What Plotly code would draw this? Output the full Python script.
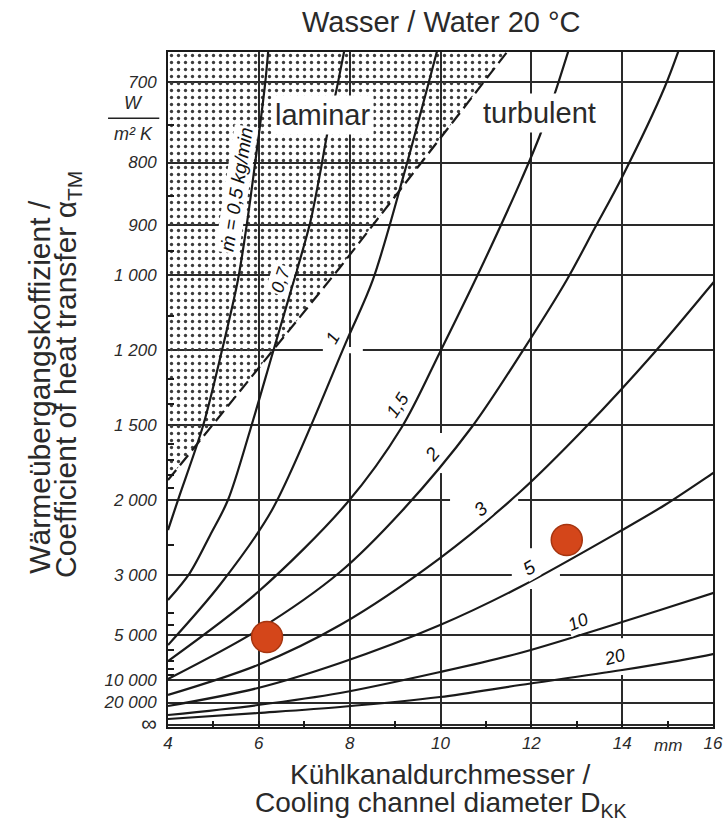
import plotly.graph_objects as go

# ---------------- data ----------------
# x: cooling channel diameter D_KK in mm, alpha: heat transfer coefficient W/(m^2 K)
D_05 = [4.00, 4.22, 4.77, 5.19, 5.54, 5.74, 5.89, 6.14, 6.24]
A_05 = [2308, 2000, 1505, 1200, 1011, 896, 815, 701, 650]

D_07 = [4.00, 4.48, 4.93, 5.32, 5.81, 6.31, 6.84, 7.13, 7.35, 7.50, 7.74, 7.96]
A_07 = [3600, 2961, 2368, 2000, 1525, 1207, 989, 896, 815, 763, 701, 650]

D_1 = [4.00, 5.14, 6.29, 7.94, 8.51, 9.22, 10.03]
A_1 = [5625, 3214, 2093, 1169, 1011, 811, 650]

D_15 = [4.00, 5.98, 7.94, 9.15, 9.99, 10.87, 11.75, 12.19, 12.52, 12.94]
A_15 = [7031, 3383, 2027, 1510, 1206, 989, 830, 763, 712, 650]

D_2 = [4.00, 5.98, 7.79, 9.17, 10.69, 11.82, 12.78, 13.40, 14.00, 14.94, 15.38]
A_2 = [9783, 4737, 2941, 2093, 1510, 1200, 1011, 905, 821, 705, 650]

D_3 = [4.00, 5.98, 7.79, 9.99, 11.75, 13.18, 14.72, 16.00, 16.26]
A_3 = [15000, 7500, 4500, 2695, 1931, 1515, 1206, 1018, 987]

D_5 = [4.00, 5.98, 7.79, 9.99, 11.75, 14.00, 14.94, 16.00, 16.26]
A_5 = [23684, 12162, 7258, 4500, 3261, 2308, 2045, 1786, 1731]

D_10 = [4.00, 5.98, 7.79, 9.99, 11.75, 14.00, 16.00, 16.26]
A_10 = [45000, 22500, 14062, 8491, 6250, 4369, 3409, 3309]

D_20 = [4.00, 5.98, 7.79, 9.99, 11.75, 14.00, 16.00, 16.26]
A_20 = [75000, 37500, 25000, 16071, 11250, 8182, 6338, 6081]

curves = [
    ("0,5", D_05, A_05), ("0,7", D_07, A_07), ("1", D_1, A_1),
    ("1,5", D_15, A_15), ("2", D_2, A_2), ("3", D_3, A_3),
    ("5", D_5, A_5), ("10", D_10, A_10), ("20", D_20, A_20),
]

# laminar / turbulent boundary (dashed)
D_bound = [4.00, 7.79, 11.46]
A_bound = [1837, 983, 669]

# example operating points (red dots)
D_pts = [6.18, 12.78]
A_pts = [5114, 2432]

# y axis ticks (alpha values), plotted on a 1/alpha scale
alpha_ticks = [700, 800, 900, 1000, 1200, 1500, 2000, 3000, 5000, 10000, 20000]
alpha_tick_text = ["700", "800", "900", "1 000", "1 200", "1 500", "2 000",
                   "3 000", "5 000", "10 000", "20 000"]
alpha_minor = [750, 850, 950, 1100, 1300, 1400, 1600, 1700, 1800, 1900,
               2500, 4000, 4500, 6000, 7000, 8000, 9000]
x_ticks = [4, 6, 8, 10, 12, 14, 16]

ALPHA_TOP = 668.6  # alpha at the upper frame edge


def inv(a_list):
    return [1000.0 / a for a in a_list]


Y_TOP = 1000.0 / ALPHA_TOP
Y_BOTTOM = -0.0044

ink = "#1a1a1a"
txt = "#2a2a2a"
font_fam = "Liberation Sans, Arial, sans-serif"

fig = go.Figure()

# stippled laminar region
stip_x = [4.0] + D_bound + [4.0]
stip_y = [Y_TOP] + inv(A_bound) + [Y_TOP]
fig.add_trace(go.Scatter(
    x=stip_x, y=stip_y, mode="lines", fill="toself",
    fillcolor="rgba(0,0,0,0)",
    fillpattern=dict(shape=".", fgcolor="#3c3c3c", bgcolor="rgba(0,0,0,0)",
                     size=7, solidity=0.18, fillmode="replace"),
    line=dict(width=0), hoverinfo="skip", showlegend=False))

# boundary line
fig.add_trace(go.Scatter(
    x=D_bound, y=inv(A_bound), mode="lines",
    line=dict(color=ink, width=2.2, dash="13px,6px"),
    hoverinfo="skip", showlegend=False))

# mass-flow curves
for name, d, a in curves:
    fig.add_trace(go.Scatter(
        x=d, y=inv(a), mode="lines", name=name,
        line=dict(color=ink, width=2.2, shape="spline", smoothing=0.9),
        showlegend=False))

# red points
fig.add_trace(go.Scatter(
    x=D_pts, y=inv(A_pts), mode="markers",
    marker=dict(size=31, color="#D4461A", line=dict(color="#A63510", width=1.5)),
    showlegend=False))

# ---------------- axes ----------------
fig.update_xaxes(
    range=[4, 16], tickmode="array", tickvals=x_ticks,
    ticktext=[str(v) for v in x_ticks], automargin=False,
    tickfont=dict(family=font_fam, size=17, color=txt, style="italic"),
    ticks="inside", ticklen=6, tickcolor=ink, tickwidth=1.5,
    showgrid=True, gridcolor="#2a2a2a", gridwidth=1.5,
    showline=True, linecolor=ink, linewidth=2, mirror=True,
    minor=dict(dtick=1, ticks="inside", ticklen=6, tickcolor=ink, tickwidth=1.5, showgrid=False),
    zeroline=False,
)
fig.update_yaxes(
    range=[Y_BOTTOM, Y_TOP], tickmode="array", automargin=False,
    tickvals=inv(alpha_ticks) + [0.0],
    ticktext=alpha_tick_text + ["<span style='font-size:22px'>∞</span>"],
    tickfont=dict(family=font_fam, size=17, color=txt, style="italic"),
    ticks="", showgrid=True, gridcolor="#2a2a2a", gridwidth=1.5,
    showline=True, linecolor=ink, linewidth=2, mirror=True,
    minor=dict(tickmode="array", tickvals=inv(alpha_minor), ticks="inside",
               ticklen=6, tickcolor=ink, tickwidth=1.5, showgrid=False),
    zeroline=False, ticklabelstandoff=6,
)

# ---------------- gaps in the grid next to curve labels ----------------
gap_h = [  # (x0, x1, alpha of the grid line)
    (7.41, 8.29, 1200), (10.21, 11.71, 2000), (11.57, 12.63, 3000)]
gap_v = [  # (x of the grid line, alpha0, alpha1)
    (10.0, 1541, 1786), (12.0, 2545, 3309), (14.0, 5182, 9000)]
shapes = []
for x0, x1, a in gap_h:
    yv = 1000.0 / a
    shapes.append(dict(type="rect", xref="x", yref="y", x0=x0, x1=x1,
                       y0=yv - 0.007, y1=yv + 0.007, layer="between",
                       fillcolor="white", line=dict(width=0)))
for xv, a0, a1 in gap_v:
    shapes.append(dict(type="rect", xref="x", yref="y", x0=xv - 0.06, x1=xv + 0.06,
                       y0=1000.0 / a1, y1=1000.0 / a0, layer="between",
                       fillcolor="white", line=dict(width=0)))
# fraction bar of the unit W / (m^2 K)
shapes.append(dict(type="line", xref="paper", yref="paper", x0=-0.110, x1=-0.016,
                   y0=0.902, y1=0.902, line=dict(color="#222", width=1.5)))

# ---------------- annotations ----------------
ann = []


def lab(text, x, y, angle=0, size=18, bg="white"):
    ann.append(dict(text=text, x=x, y=y, xref="x", yref="y", showarrow=False,
                    textangle=angle, bgcolor=bg, borderpad=1,
                    font=dict(family=font_fam, size=size, color="#111", style="italic")))


lab("ṁ = 0,5 kg/min", 5.52, 1.189, -81, 19)
lab("0,7", 6.47, 0.99, -72, 18)
lab("1", 7.63, 0.86, -60, 18)
lab("1,5", 9.06, 0.711, -57, 18)
lab("2", 9.81, 0.602, -50, 19)
lab("3", 10.87, 0.48, -40, 19)
lab("5", 11.97, 0.349, -30, 19)
lab("10", 13.03, 0.229, -22, 18)
lab("20", 13.84, 0.151, -15, 18)

ann.append(dict(text="laminar", x=7.41, y=1.356, xref="x", yref="y", showarrow=False,
                bgcolor="white", borderpad=3,
                font=dict(family=font_fam, size=29, color=txt)))
ann.append(dict(text="turbulent", x=12.19, y=1.36, xref="x", yref="y", showarrow=False,
                bgcolor="white", borderpad=3,
                font=dict(family=font_fam, size=29, color=txt)))

ann.append(dict(text="mm", x=15.0, y=-0.027, xref="x", yref="paper", showarrow=False,
                yanchor="middle",
                font=dict(family=font_fam, size=17, color=txt, style="italic")))

# unit W / m^2 K
ann.append(dict(text="W", x=-0.064, y=0.925, xref="paper", yref="paper", showarrow=False,
                xanchor="center", yanchor="middle",
                font=dict(family=font_fam, size=18, color=txt, style="italic")))
ann.append(dict(text="m² K", x=-0.064, y=0.879, xref="paper", yref="paper", showarrow=False,
                xanchor="center", yanchor="middle",
                font=dict(family=font_fam, size=18, color=txt, style="italic")))

# titles
ann.append(dict(text="Wasser / Water 20 °C", x=0.501, y=1.0444, xref="paper", yref="paper",
                showarrow=False, yanchor="middle",
                font=dict(family=font_fam, size=29, color=txt)))
ann.append(dict(text="Kühlkanaldurchmesser /", x=0.5, y=-0.070, xref="paper", yref="paper",
                showarrow=False, yanchor="middle",
                font=dict(family=font_fam, size=28, color=txt)))
ann.append(dict(text="Cooling channel diameter D<sub>KK</sub>", x=0.5, y=-0.115,
                xref="paper", yref="paper", showarrow=False, yanchor="middle",
                font=dict(family=font_fam, size=28, color=txt)))
ann.append(dict(text="Wärmeübergangskoffizient /", x=-0.235, y=0.504, xref="paper",
                yref="paper", showarrow=False, textangle=-90, xanchor="center",
                font=dict(family=font_fam, size=30, color=txt)))
ann.append(dict(text="Coefficient of heat transfer α<sub>TM</sub>", x=-0.1835, y=0.523,
                xref="paper", yref="paper", showarrow=False, textangle=-90, xanchor="center",
                font=dict(family=font_fam, size=30, color=txt)))

fig.update_layout(
    width=724, height=827,
    margin=dict(l=168, r=11, t=52, b=100, autoexpand=False),
    paper_bgcolor="white", plot_bgcolor="white",
    annotations=ann, shapes=shapes,
    showlegend=False,
)

fig.write_html("out.html", config={"displayModeBar": False},
               post_script="document.body.style.margin='0px';document.body.style.overflow='hidden';")
